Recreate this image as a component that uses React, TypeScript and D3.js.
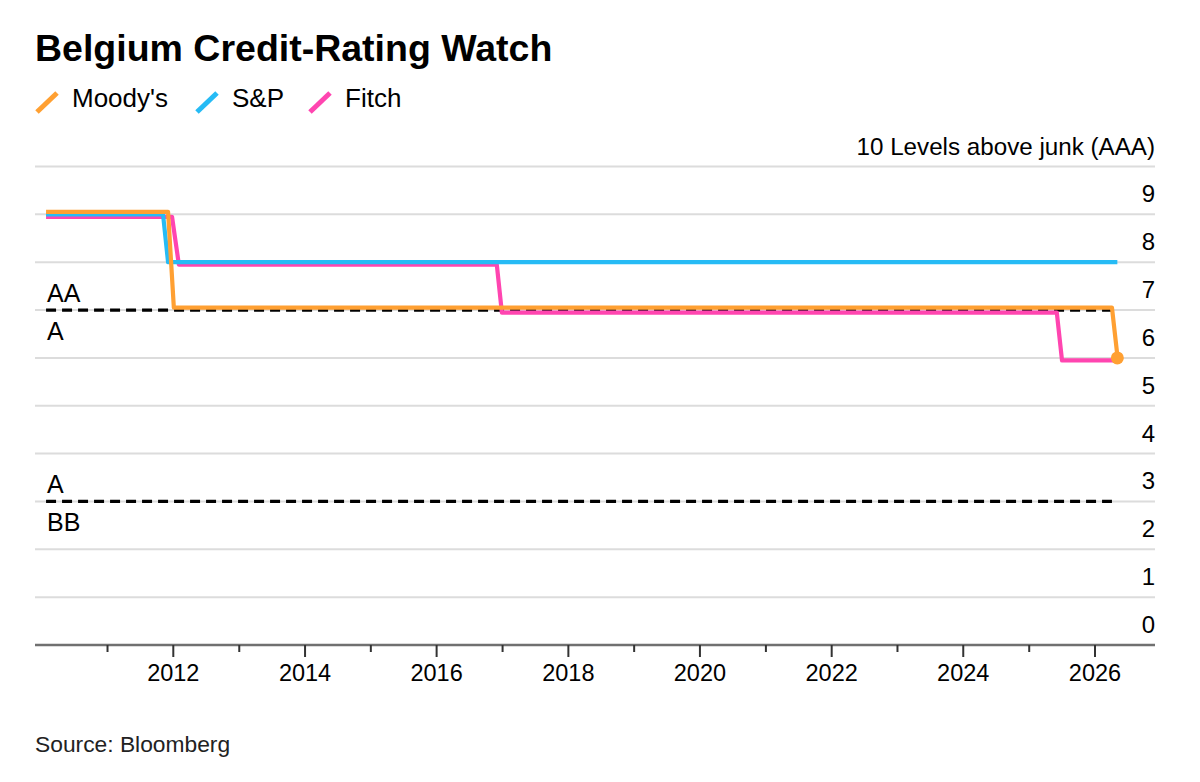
import React from "react";
import * as d3 from "d3";

const title = "Belgium Credit-Rating Watch";
const source = "Source: Bloomberg";
const yAxisTitle = "10 Levels above junk (AAA)";

const seriesNames = ["Moody's", "S&P", "Fitch"];
const seriesColors = ["#ffa032", "#26bbf5", "#ff45b0"];

const moodysDates = ["2010-01-25", "2011-12-03", "2012-01-04", "2026-04-05", "2026-05-05"];
const moodysLevels = [9, 9, 7, 7, 6];
const spDates = ["2010-01-25", "2011-11-05", "2011-12-03", "2026-05-05"];
const spLevels = [9, 9, 8, 8];
const fitchDates = ["2010-01-25", "2011-12-25", "2012-02-01", "2016-11-30", "2016-12-28", "2025-06-03", "2025-07-02", "2026-05-05"];
const fitchLevels = [9, 9, 8, 8, 7, 7, 6, 6];

const thresholdLevels = [7, 3];
const thresholdAbove = ["AA", "A"];
const thresholdBelow = ["A", "BB"];
const thresholdStart = "2010-01-25";
const thresholdEnd = "2026-04-05";

const yTicks = [0, 1, 2, 3, 4, 5, 6, 7, 8, 9];
const yTop = 10;
const tickYears = [2011, 2012, 2013, 2014, 2015, 2016, 2017, 2018, 2019, 2020, 2021, 2022, 2023, 2024, 2025, 2026];

const FONT = "'Liberation Sans', Arial, Helvetica, sans-serif";
const parse = d3.timeParse("%Y-%m-%d");

export default function App() {
  const W = 1200, H = 782;
  const left = 35, right = 1155;
  const x = d3.scaleTime()
    .domain([new Date(2012, 0, 1), new Date(2026, 0, 1)])
    .range([173.3, 1095]);
  const y = d3.scaleLinear().domain([0, 10]).range([645, 166.5]);

  const series = [
    { dates: moodysDates, levels: moodysLevels, off: -2.5 },
    { dates: spDates, levels: spLevels, off: 0 },
    { dates: fitchDates, levels: fitchLevels, off: 2.5 },
  ];

  const drawOrder = [2, 1, 0];

  const legendX = [37, 197, 310];
  const legendTextX = [72, 232, 345];

  return (
    <svg width={W} height={H} style={{ position: "absolute", left: 0, top: 0, background: "#fff" }} fontFamily={FONT}>
      <rect x={0} y={0} width={W} height={H} fill="#fff" />
      <text x={35} y={61} fontSize={37.5} fontWeight="bold" fill="#000">{title}</text>

      {seriesNames.map((n, i) => (
        <g key={n}>
          <line x1={legendX[i]} y1={112} x2={legendX[i] + 20} y2={93} stroke={seriesColors[i]} strokeWidth={5} />
          <text x={legendTextX[i]} y={107} fontSize={26} fill="#000">{n}</text>
        </g>
      ))}

      {/* gridlines */}
      {[...yTicks.filter((v) => v > 0), yTop].map((v) => (
        <line key={v} x1={left} x2={right} y1={y(v)} y2={y(v)} stroke="#dcdcdc" strokeWidth={2} />
      ))}
      {yTicks.map((v) => (
        <text key={v} x={right} y={y(v) - 12} fontSize={24} textAnchor="end" fill="#000">{v}</text>
      ))}
      <text x={right} y={y(yTop) - 11.5} fontSize={24.2} textAnchor="end" fill="#000">{yAxisTitle}</text>

      {/* thresholds */}
      {thresholdLevels.map((lv, i) => (
        <g key={lv}>
          <line x1={x(parse(thresholdStart)!)} x2={x(parse(thresholdEnd)!)} y1={y(lv)} y2={y(lv)}
            stroke="#000" strokeWidth={3.2} strokeDasharray="10,6" />
          <text x={47} y={y(lv) - 8} fontSize={25} fill="#000">{thresholdAbove[i]}</text>
          <text x={47} y={y(lv) + 30} fontSize={25} fill="#000">{thresholdBelow[i]}</text>
        </g>
      ))}

      {/* x axis */}
      <line x1={left} x2={right} y1={y(0)} y2={y(0)} stroke="#707070" strokeWidth={2.5} />
      {tickYears.map((yr) => {
        const xx = x(new Date(yr, 0, 1));
        const major = yr % 2 === 0;
        return (
          <g key={yr}>
            <line x1={xx} x2={xx} y1={y(0)} y2={y(0) + (major ? 12 : 7)} stroke="#333" strokeWidth={2} />
            {major && (
              <text x={xx} y={681} fontSize={23.5} textAnchor="middle" fill="#000">{yr}</text>
            )}
          </g>
        );
      })}

      {/* series */}
      {drawOrder.map((i) => {
        const s = series[i];
        const pts = s.dates.map((d, k) => [x(parse(d)!), y(s.levels[k]) + s.off] as [number, number]);
        const path = d3.line()(pts) || "";
        return (
          <path key={i} d={path} fill="none" stroke={seriesColors[i]} strokeWidth={4.2} strokeLinejoin="round" />
        );
      })}
      {(() => {
        const s = series[0];
        const k = s.dates.length - 1;
        return <circle cx={x(parse(s.dates[k])!)} cy={y(s.levels[k])} r={6.5} fill={seriesColors[0]} />;
      })()}

      <text x={35} y={752} fontSize={22.8} fill="#222">{source}</text>
    </svg>
  );
}
